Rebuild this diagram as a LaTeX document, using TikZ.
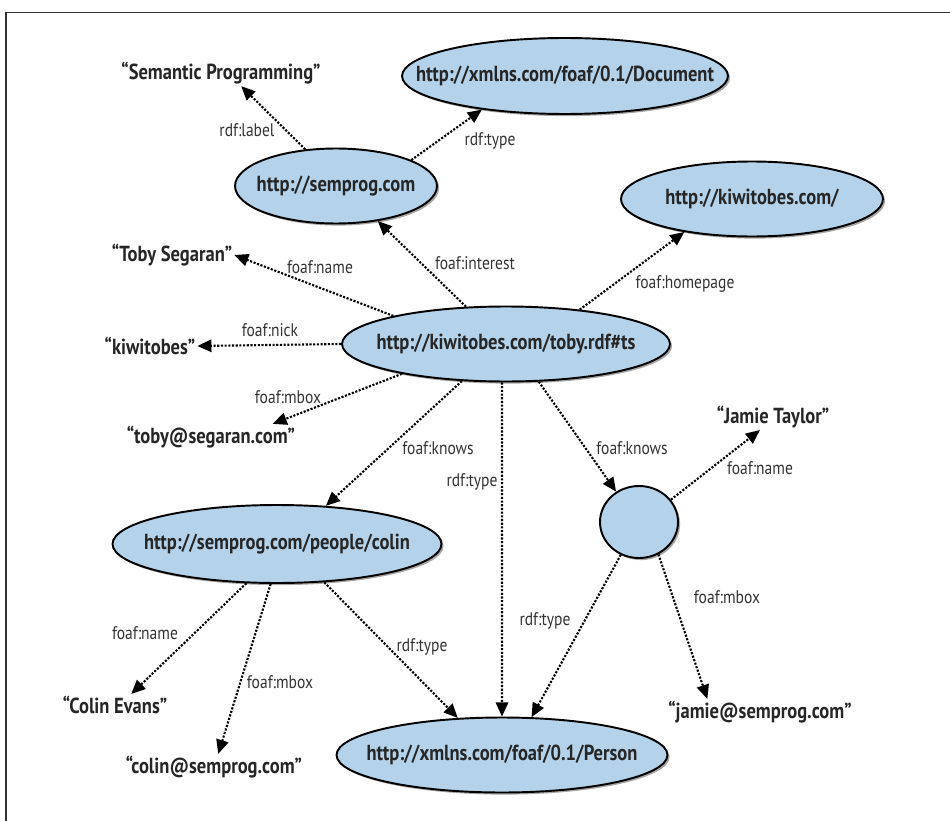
\documentclass[tikz,border=0pt]{standalone}
\usepackage{fontspec}
\setmainfont{PT Sans}[FakeStretch=0.85]
\usetikzlibrary{shapes.geometric,arrows.meta,shadows}
\definecolor{nodeblue}{RGB}{180,211,235}
% text of a resource node, kept out of the ellipse's own sizing
\newcommand{\uri}[1]{\makebox[0pt][c]{#1}}
\begin{document}
\begin{tikzpicture}[x=0.02cm,y=-0.02cm,
  res/.style={ellipse,draw=black,line width=1.1pt,fill=nodeblue,inner sep=0pt,
    font=\bfseries\fontsize{12.4}{14}\selectfont,text=black!85,
    drop shadow={shadow xshift=1.2pt,shadow yshift=-1.2pt,opacity=0.35,fill=black}},
  lit/.style={inner sep=1pt,font=\bfseries\fontsize{12.4}{14}\selectfont,text=black!85},
  lbl/.style={inner sep=0pt,font=\fontsize{10.4}{12}\selectfont,text=black!80},
  rel/.style={-{Triangle[length=8pt,width=7pt]},line width=1.2pt,dash pattern=on 1.2pt off 0.9pt}
]
\useasboundingbox (0,0) rectangle (950,821);
% page frame
\draw[line width=1.1pt,black!80] (6,821) -- (6,12.5) -- (950,12.5);

% resources
\node[res,minimum width=6.52cm,minimum height=1.52cm] (doc) at (565,76) {\uri{http://xmlns.com/foaf/0.1/Document}};
\node[res,minimum width=4.04cm,minimum height=1.5cm] (semprog) at (336,186) {\uri{http://semprog.com}};
\node[res,minimum width=5.24cm,minimum height=1.5cm] (home) at (752,199) {\uri{http://kiwitobes.com/}};
\node[res,minimum width=6.56cm,minimum height=1.5cm] (toby) at (506,344) {\uri{http://kiwitobes.com/toby.rdf\#ts}};
\node[res,minimum width=6.58cm,minimum height=1.56cm] (colin) at (277,544) {\uri{http://semprog.com/people/colin}};
\node[res,minimum width=6.62cm,minimum height=1.5cm] (person) at (502,755) {\uri{http://xmlns.com/foaf/0.1/Person}};
\node[res,minimum width=1.56cm,minimum height=1.44cm] (jamie) at (639,522) {};

% literals
\node[lit] (semlit) at (221,73) {“Semantic Programming”};
\node[lit] (tobyname) at (172,255) {“Toby Segaran”};
\node[lit] (nick) at (150,346) {“kiwitobes”};
\node[lit] (tobymail) at (211,437) {“toby@segaran.com”};
\node[lit] (colinname) at (115,705) {“Colin Evans”};
\node[lit] (colinmail) at (214,767) {“colin@semprog.com”};
\node[lit] (jamiename) at (773,417) {“Jamie Taylor”};
\node[lit] (jamiemail) at (760,712) {“jamie@semprog.com”};

% properties
\draw[rel] (semprog.130) -- (semlit.-33);
\draw[rel] (semprog.19) -- (doc.202);
\draw[rel] (toby.137) -- (semprog.-40);
\draw[rel] (toby.166) -- (tobyname.east);
\draw[rel] (toby.25) -- (home.206);
\draw[rel] (toby.west) -- (nick.east);
\draw[rel] (toby.196) -- (tobymail.12);
\draw[rel] (toby.220) -- (colin.38);
\draw[rel] (toby.264) -- (person.north);
\draw[rel] (toby.311) -- (jamie.127);
\draw[rel] (jamie.35) -- (jamiename.225);
\draw[rel] (jamie.241) -- (person.52);
\draw[rel] (jamie.-59) -- (jamiemail.166);
\draw[rel] (colin.232) -- (colinname.34);
\draw[rel] (colin.261) -- (colinmail.72);
\draw[rel] (colin.321) -- (person.140);

% property names
\node[lbl] (l1) at (247,130) {rdf:label};
\node[lbl] (l2) at (490,141) {rdf:type};
\node[lbl] (l3) at (320,267) {foaf:name};
\node[lbl] (l4) at (475,263) {foaf:interest};
\node[lbl] (l5) at (685,284) {foaf:homepage};
\node[lbl] (l6) at (270,330) {foaf:nick};
\node[lbl] (l7) at (288,397) {foaf:mbox};
\node[lbl] (l8) at (438,448) {foaf:knows};
\node[lbl] (l9) at (472,482) {rdf:type};
\node[lbl] (l10) at (632,448) {foaf:knows};
\node[lbl] (l11) at (760,468) {foaf:name};
\node[lbl] (l12) at (545,621) {rdf:type};
\node[lbl] (l13) at (727,597) {foaf:mbox};
\node[lbl] (l14) at (145,633) {foaf:name};
\node[lbl] (l15) at (280,682) {foaf:mbox};
\node[lbl] (l16) at (422,647) {rdf:type};
\end{tikzpicture}
\end{document}
